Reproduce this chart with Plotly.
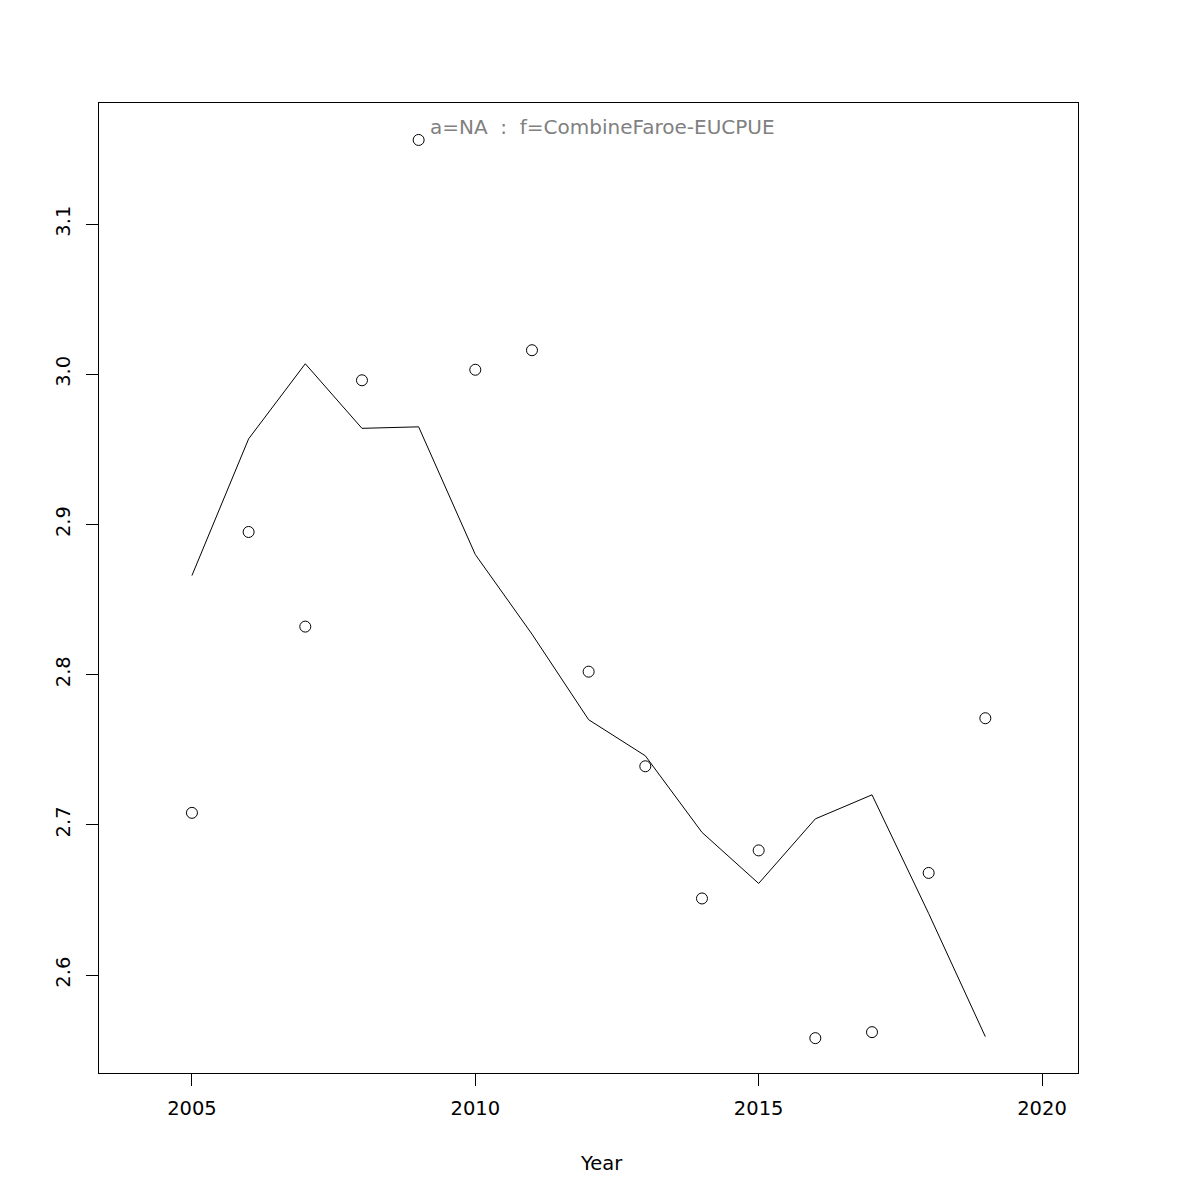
import plotly.graph_objects as go

years = [2005, 2006, 2007, 2008, 2009, 2010, 2011, 2012, 2013, 2014, 2015, 2016, 2017, 2018, 2019]
observed = [2.708, 2.895, 2.832, 2.996, 3.156, 3.003, 3.016, 2.802, 2.739, 2.651, 2.683, 2.558, 2.562, 2.668, 2.771]
fitted = [2.866, 2.957, 3.007, 2.964, 2.965, 2.880, 2.827, 2.770, 2.746, 2.695, 2.661, 2.704, 2.720, 2.641, 2.559]
x_ticks = [2005, 2010, 2015, 2020]
y_ticks = [2.6, 2.7, 2.8, 2.9, 3.0, 3.1]
y_tick_labels = ["2.6", "2.7", "2.8", "2.9", "3.0", "3.1"]
label_text = "a=NA  :  f=CombineFaroe-EUCPUE"
x_title = "Year"

font = "DejaVu Sans, sans-serif"

fig = go.Figure()
fig.add_trace(go.Scatter(x=years, y=fitted, mode="lines",
                         line=dict(color="black", width=1), showlegend=False))
fig.add_trace(go.Scatter(x=years, y=observed, mode="markers",
                         marker=dict(symbol="circle-open", size=11, color="black",
                                     line=dict(width=1, color="black")),
                         showlegend=False))

fig.update_layout(
    width=1200, height=1200,
    margin=dict(l=91, r=130, t=95, b=135),
    plot_bgcolor="white", paper_bgcolor="white",
    font=dict(family=font, size=20, color="black"),
    xaxis=dict(range=[2003.36, 2020.635], tickvals=x_ticks, ticks="outside", ticklen=12,
               tickcolor="black", showgrid=False, zeroline=False,
               showline=True, mirror=True, linecolor="black", linewidth=1,
               tickfont=dict(size=19.5), ticklabelstandoff=6),
    yaxis=dict(range=[2.5348, 3.1806], tickvals=y_ticks, ticktext=y_tick_labels,
               ticks="outside", ticklen=12, tickcolor="black", tickangle=-90,
               tickfont=dict(size=19.5), ticklabelstandoff=8,
               showgrid=False, zeroline=False,
               showline=True, mirror=True, linecolor="black", linewidth=1),
)

fig.add_annotation(text=label_text, xref="paper", yref="paper", x=0.514, y=0.975,
                   xanchor="center", yanchor="middle", showarrow=False,
                   font=dict(family=font, size=20, color="#808080"))
fig.add_annotation(text=x_title, xref="paper", yref="paper", x=0.513, y=-0.093,
                   xanchor="center", yanchor="middle", showarrow=False,
                   font=dict(family=font, size=19.5, color="black"))

fig.write_html("out.html")
